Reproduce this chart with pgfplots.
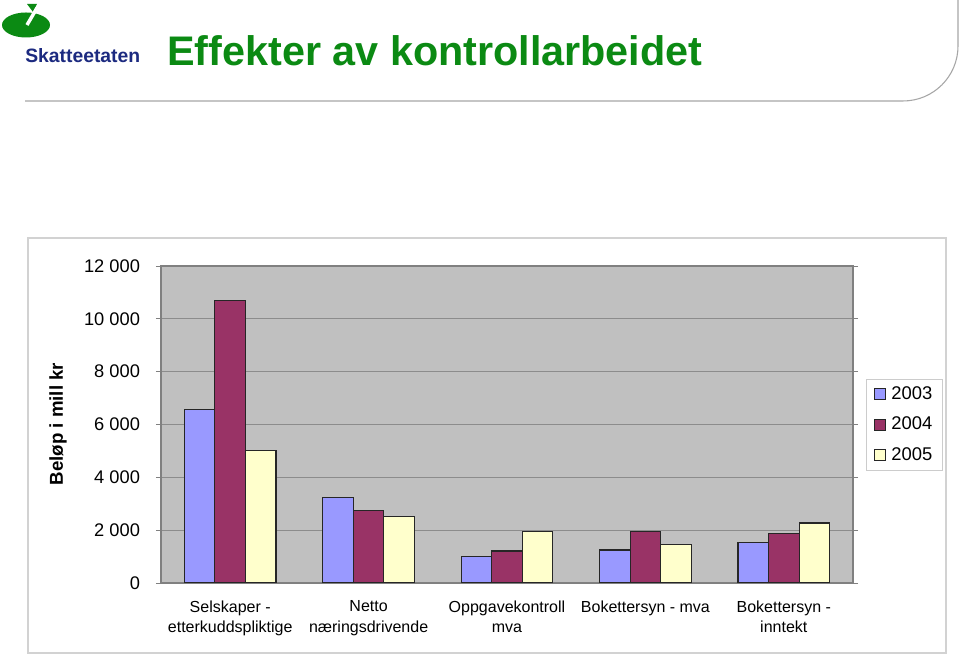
\documentclass[border=0pt]{standalone}
\usepackage{fontspec}
\setmainfont{Liberation Sans}
\usepackage{pgfplots}
\pgfplotsset{compat=1.18}
\definecolor{c2003}{HTML}{9999FF}
\definecolor{c2004}{HTML}{993366}
\definecolor{c2005}{HTML}{FFFFCC}
\definecolor{plotbg}{HTML}{C0C0C0}
\definecolor{gridc}{HTML}{8C8C8C}
\definecolor{skgreen}{HTML}{0B8A13}
\definecolor{sknavy}{HTML}{1C2A80}
\begin{document}
\begin{tikzpicture}[x=0.75pt,y=0.75pt]
\path[use as bounding box] (0,0) rectangle (960,655);
\fill[white] (0,0) rectangle (960,655);
% logo
\fill[skgreen] (26,630) ellipse [x radius=24, y radius=12.5];
\fill[skgreen] (27,651) -- (37,651) -- (33,643) -- cycle;
\draw[white, line width=2.6pt] (37,647) -- (27,630);
\node[anchor=base west, inner sep=0pt, text=sknavy, font=\fontsize{14.5}{17}\selectfont\bfseries] at (25,592) {Skatteetaten};
\node[anchor=base west, inner sep=0pt, text=skgreen, font=\fontsize{31}{36}\selectfont\bfseries] at (167,589) {Effekter av kontrollarbeidet};
% header line
\draw[gray!70, line width=0.8pt] (25,554) -- (903,554) arc[start angle=270, end angle=360, radius=55] -- (958,655);
% chart frame
\draw[gray!35, line width=0.8pt] (28,2) rectangle (946,417);
\node[rotate=90, font=\fontsize{14}{17}\selectfont\bfseries] at (58,231) {Beløp i mill kr};
\begin{axis}[
  at={(120.75pt,54pt)}, anchor=south west,
  scale only axis, width=519pt, height=237.75pt,
  ybar=0pt, bar width=22.9pt,
  xmin=-0.5, xmax=4.5, ymin=0, ymax=12000,
  xtick={0,1,2,3,4},
  xticklabels={{Selskaper -\\etterkuddspliktige},{Netto\\næringsdrivende},{Oppgavekontroll\\mva},{Bokettersyn - mva},{Bokettersyn -\\inntekt}},
  xticklabel style={align=center, font=\fontsize{12}{15.5}\selectfont, yshift=-6pt},
  x tick style={draw=none},
  extra x ticks={-0.5,0.5,1.5,2.5,3.5,4.5},
  extra x tick labels={},
  extra x tick style={tick align=outside, major tick length=3.75pt, tick style={draw=gray, line width=0.6pt}, grid=none},
  ytick={0,2000,...,12000},
  ytick align=outside, major tick length=3.75pt,
  y tick style={draw=gray, line width=0.6pt},
  yticklabel style={font=\fontsize{13.7}{16}\selectfont, xshift=-8.5pt},
  /pgf/number format/.cd, assume math mode=true, 1000 sep={\ }, /pgfplots/.cd,
  scaled y ticks=false,
  ymajorgrids, grid style={draw=gridc, line width=0.7pt},
  axis line style={draw=gray, line width=0.8pt},
  axis background/.style={fill=plotbg},
  legend style={at={(axis description cs:1,0.5)}, anchor=west, xshift=9.75pt,
    draw=gray!40, fill=white, font=\fontsize{13.8}{16}\selectfont,
    row sep=7.8pt, column sep=2.5pt, inner xsep=5.5pt, inner ysep=3.5pt},
  legend cell align=left,
  legend image code/.code={\draw[#1, line width=0.6pt] (0pt,-4.1pt) rectangle (8.2pt,4.1pt);},
]
\addplot[fill=c2003, draw=black!85, line width=0.8pt] coordinates {(0,6560) (1,3230) (2,1020) (3,1250) (4,1525)};
\addplot[fill=c2004, draw=black!85, line width=0.8pt] coordinates {(0,10710) (1,2740) (2,1210) (3,1950) (4,1865)};
\addplot[fill=c2005, draw=black!85, line width=0.8pt] coordinates {(0,5000) (1,2500) (2,1940) (3,1440) (4,2270)};
\legend{2003,2004,2005}
\end{axis}
\end{tikzpicture}
\end{document}
